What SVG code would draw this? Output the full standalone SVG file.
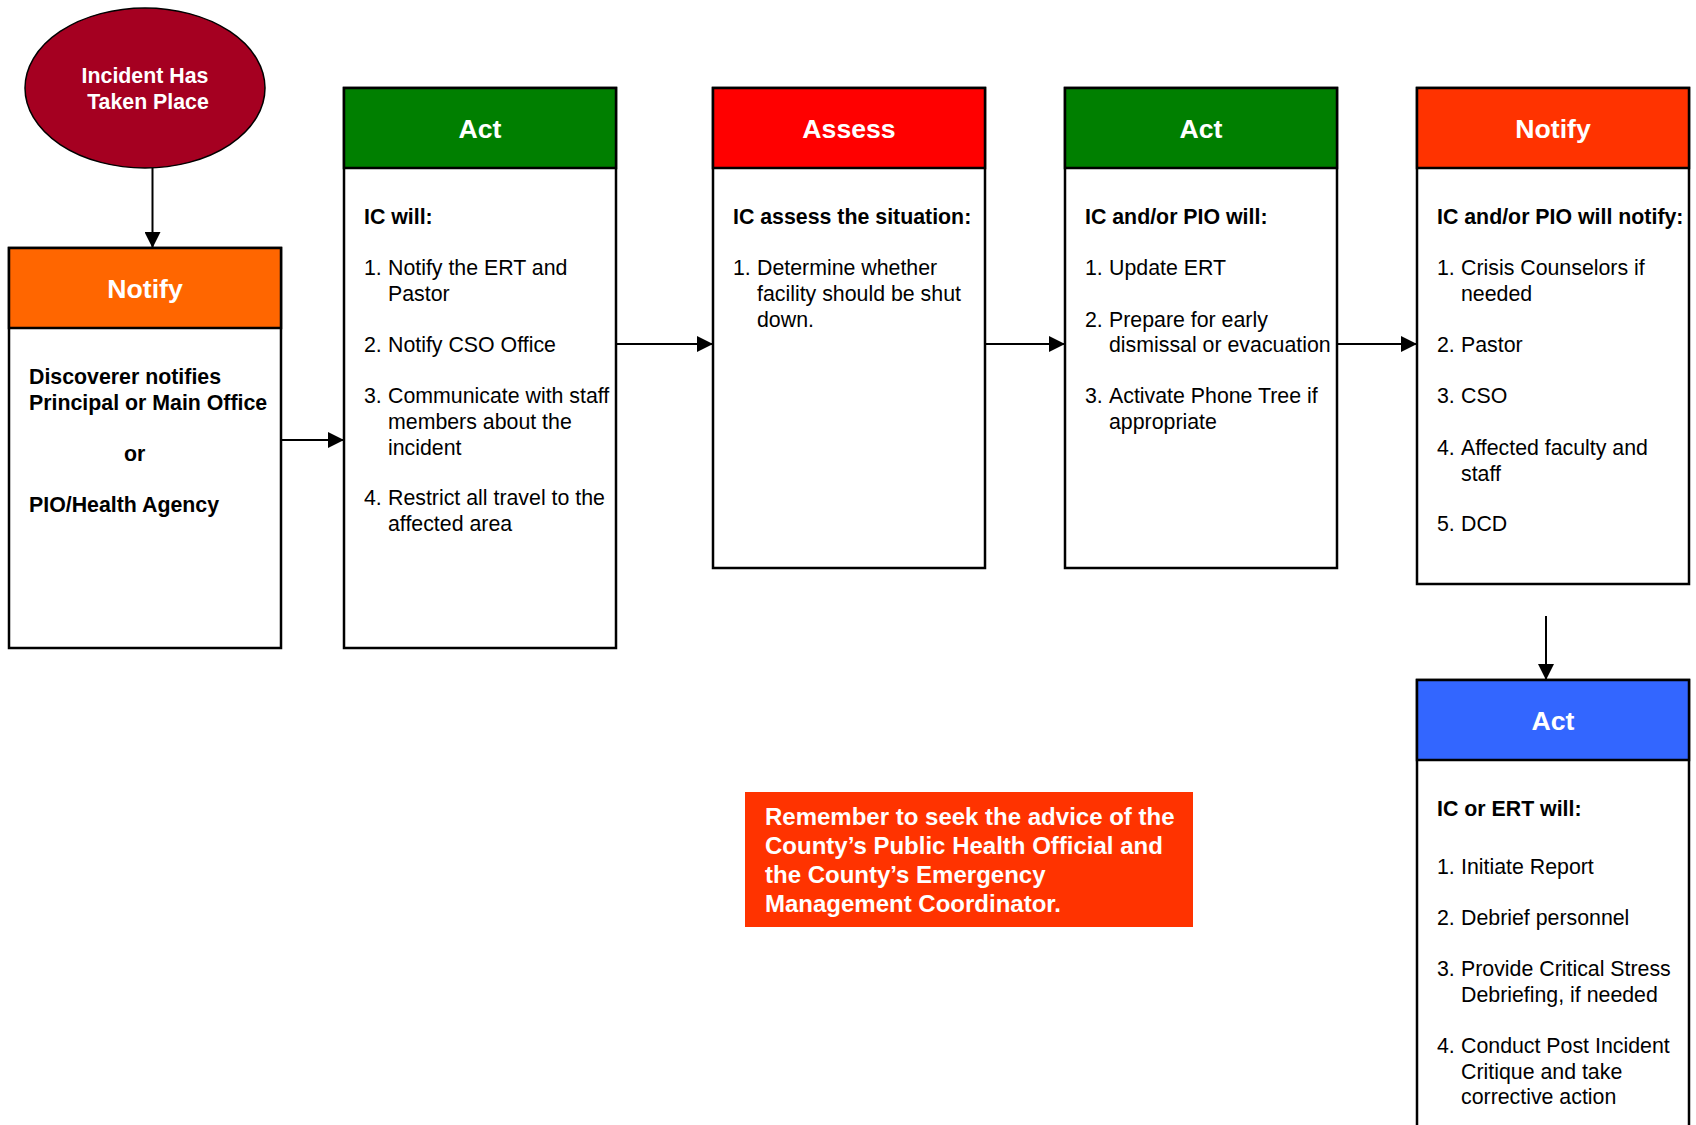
<svg xmlns="http://www.w3.org/2000/svg" width="1696" height="1125" viewBox="0 0 1696 1125">
  <style>
    .box { fill: #ffffff; stroke: #000000; stroke-width: 2.5; }
    .hdr { stroke: #000000; stroke-width: 2.5; }
    .title { font-family: "Liberation Sans", Arial, sans-serif; font-weight: bold; font-size: 26.67px; fill: #ffffff; text-anchor: middle; }
    .head { font-family: "Liberation Sans", Arial, sans-serif; font-weight: bold; font-size: 21.33px; fill: #000000; }
    .body { font-family: "Liberation Sans", Arial, sans-serif; font-size: 21.33px; fill: #000000; }
    .white { font-family: "Liberation Sans", Arial, sans-serif; font-weight: bold; fill: #ffffff; }
    .conn { stroke: #000000; stroke-width: 2; fill: none; marker-end: url(#arrow); }
  </style>
  <defs>
    <marker id="arrow" markerUnits="userSpaceOnUse" markerWidth="16" markerHeight="16" refX="16" refY="8" orient="auto">
      <path d="M0,0 L16,8 L0,16 z" fill="#000000"/>
    </marker>
  </defs>

  <rect width="1696" height="1125" fill="#ffffff"/>

  <!-- start event -->
  <g id="incident">
    <ellipse cx="145" cy="88" rx="120" ry="80" fill="#A50021" stroke="#000000" stroke-width="1.5"/>
    <text class="white" font-size="21.33" x="145" y="82.5" text-anchor="middle">Incident Has</text>
    <text class="white" font-size="21.33" x="148" y="108.5" text-anchor="middle">Taken Place</text>
  </g>

  <!-- step 1: notify -->
  <g id="notify-discoverer">
    <rect class="box" x="9" y="248" width="272" height="400"/>
    <rect class="hdr" x="9" y="248" width="272" height="80" fill="#FF6600"/>
    <text class="title" x="145" y="297.5">Notify</text>
    <text class="head" x="29" y="384">Discoverer notifies</text>
    <text class="head" x="29" y="410">Principal or Main Office</text>
    <text class="head" x="124" y="461">or</text>
    <text class="head" x="29" y="512">PIO/Health Agency</text>
  </g>

  <!-- step 2: act -->
  <g id="act-ic">
    <rect class="box" x="344" y="88" width="272" height="560"/>
    <rect class="hdr" x="344" y="88" width="272" height="80" fill="#007F00"/>
    <text class="title" x="480" y="137.5">Act</text>
    <text class="head" x="364" y="224">IC will:</text>
    <text class="body" x="364" y="275">1.</text><text class="body" x="388" y="275">Notify the ERT and</text>
    <text class="body" x="388" y="301">Pastor</text>
    <text class="body" x="364" y="352">2.</text><text class="body" x="388" y="352">Notify CSO Office</text>
    <text class="body" x="364" y="402.5">3.</text><text class="body" x="388" y="402.5">Communicate with staff</text>
    <text class="body" x="388" y="428.5">members about the</text>
    <text class="body" x="388" y="454.5">incident</text>
    <text class="body" x="364" y="505">4.</text><text class="body" x="388" y="505">Restrict all travel to the</text>
    <text class="body" x="388" y="531">affected area</text>
  </g>

  <!-- step 3: assess -->
  <g id="assess">
    <rect class="box" x="713" y="88" width="272" height="480"/>
    <rect class="hdr" x="713" y="88" width="272" height="80" fill="#FF0000"/>
    <text class="title" x="849" y="137.5">Assess</text>
    <text class="head" x="733" y="224">IC assess the situation:</text>
    <text class="body" x="733" y="275">1.</text><text class="body" x="757" y="275">Determine whether</text>
    <text class="body" x="757" y="301">facility should be shut</text>
    <text class="body" x="757" y="327">down.</text>
  </g>

  <!-- step 4: act -->
  <g id="act-pio">
    <rect class="box" x="1065" y="88" width="272" height="480"/>
    <rect class="hdr" x="1065" y="88" width="272" height="80" fill="#007F00"/>
    <text class="title" x="1201" y="137.5">Act</text>
    <text class="head" x="1085" y="224">IC and/or PIO will:</text>
    <text class="body" x="1085" y="275">1.</text><text class="body" x="1109" y="275">Update ERT</text>
    <text class="body" x="1085" y="326.5">2.</text><text class="body" x="1109" y="326.5">Prepare for early</text>
    <text class="body" x="1109" y="352">dismissal or evacuation</text>
    <text class="body" x="1085" y="402.5">3.</text><text class="body" x="1109" y="402.5">Activate Phone Tree if</text>
    <text class="body" x="1109" y="428.5">appropriate</text>
  </g>

  <!-- step 5: notify -->
  <g id="notify-pio">
    <rect class="box" x="1417" y="88" width="272" height="496"/>
    <rect class="hdr" x="1417" y="88" width="272" height="80" fill="#FF3300"/>
    <text class="title" x="1553" y="137.5">Notify</text>
    <text class="head" x="1437" y="224">IC and/or PIO will notify:</text>
    <text class="body" x="1437" y="275">1.</text><text class="body" x="1461" y="275">Crisis Counselors if</text>
    <text class="body" x="1461" y="301">needed</text>
    <text class="body" x="1437" y="352">2.</text><text class="body" x="1461" y="352">Pastor</text>
    <text class="body" x="1437" y="402.5">3.</text><text class="body" x="1461" y="402.5">CSO</text>
    <text class="body" x="1437" y="454.5">4.</text><text class="body" x="1461" y="454.5">Affected faculty and</text>
    <text class="body" x="1461" y="480.5">staff</text>
    <text class="body" x="1437" y="531">5.</text><text class="body" x="1461" y="531">DCD</text>
  </g>

  <!-- step 6: act -->
  <g id="act-ert">
    <rect class="box" x="1417" y="680" width="272" height="460"/>
    <rect class="hdr" x="1417" y="680" width="272" height="80" fill="#3366FF"/>
    <text class="title" x="1553" y="729.5">Act</text>
    <text class="head" x="1437" y="816">IC or ERT will:</text>
    <text class="body" x="1437" y="874">1.</text><text class="body" x="1461" y="874">Initiate Report</text>
    <text class="body" x="1437" y="925">2.</text><text class="body" x="1461" y="925">Debrief personnel</text>
    <text class="body" x="1437" y="975.5">3.</text><text class="body" x="1461" y="975.5">Provide Critical Stress</text>
    <text class="body" x="1461" y="1001.5">Debriefing, if needed</text>
    <text class="body" x="1437" y="1052.5">4.</text><text class="body" x="1461" y="1052.5">Conduct Post Incident</text>
    <text class="body" x="1461" y="1078.5">Critique and take</text>
    <text class="body" x="1461" y="1104">corrective action</text>
  </g>

  <!-- reminder note -->
  <g id="reminder">
    <rect x="745" y="792" width="448" height="135" fill="#FF3300"/>
    <text class="white" font-size="24" x="765" y="825">Remember to seek the advice of the</text>
    <text class="white" font-size="24" x="765" y="854">County’s Public Health Official and</text>
    <text class="white" font-size="24" x="765" y="883">the County’s Emergency</text>
    <text class="white" font-size="24" x="765" y="912">Management Coordinator.</text>
  </g>

  <!-- connectors -->
  <g id="connectors">
    <line class="conn" x1="152.5" y1="168" x2="152.5" y2="248"/>
    <line class="conn" x1="281" y1="440" x2="344" y2="440"/>
    <line class="conn" x1="616" y1="344" x2="713" y2="344"/>
    <line class="conn" x1="985" y1="344" x2="1065" y2="344"/>
    <line class="conn" x1="1337" y1="344" x2="1417" y2="344"/>
    <line class="conn" x1="1546" y1="616" x2="1546" y2="680"/>
  </g>
</svg>
